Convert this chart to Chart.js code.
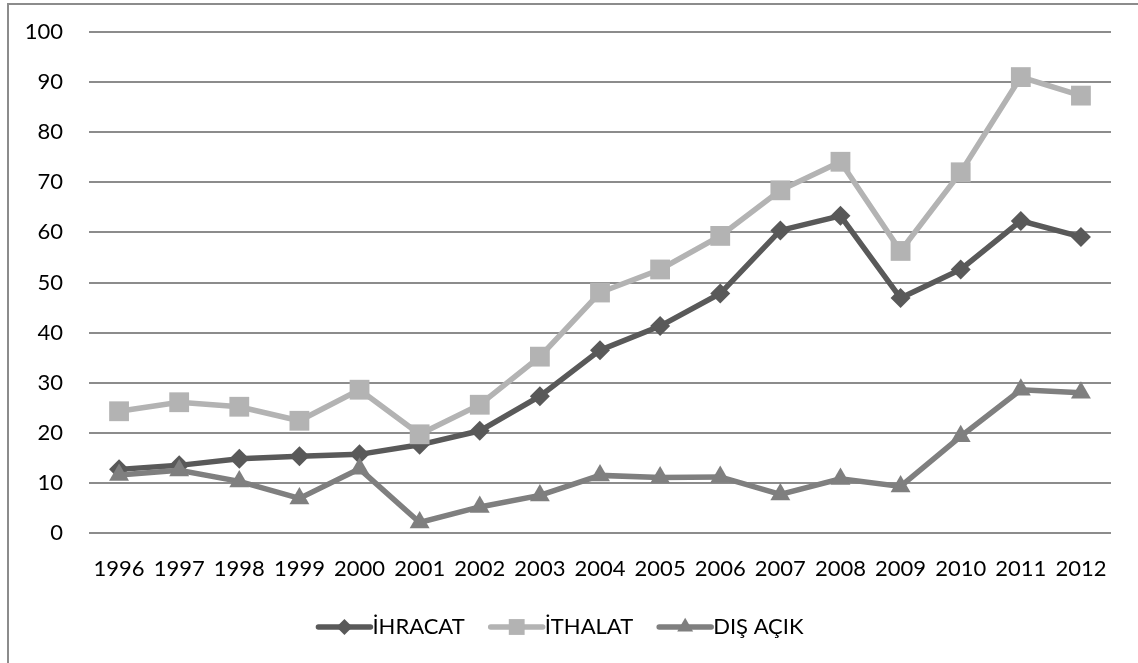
<!DOCTYPE html>
<html>
<head>
<meta charset="utf-8">
<script src="https://cdn.jsdelivr.net/npm/chart.js@4"></script>
<style>
  html, body { margin: 0; padding: 0; background: #fff; overflow: hidden; }
  #frame {
    position: absolute; left: 7px; top: 3px; width: 1140px; height: 670px;
    border: 2px solid #8c8c8c; box-sizing: border-box;
  }
  #wrap { position: absolute; left: 0; top: 0; width: 1138px; height: 663px; }
</style>
</head>
<body>
<div id="frame"></div>
<div id="wrap"><canvas id="lineChart"></canvas></div>
<script>
// years on the x axis
const years = ['1996', '1997', '1998', '1999', '2000', '2001', '2002', '2003', '2004',
  '2005', '2006', '2007', '2008', '2009', '2010', '2011', '2012'];

// series values
const ihracat = [12.7, 13.5, 14.8, 15.3, 15.7, 17.6, 20.4, 27.3, 36.5, 41.3, 47.8, 60.4, 63.3, 46.9, 52.6, 62.3, 59.1];
const ithalat = [24.3, 26.1, 25.2, 22.4, 28.6, 19.7, 25.6, 35.2, 48.0, 52.6, 59.3, 68.4, 74.1, 56.3, 72.0, 91.0, 87.3];
const disAcik = [11.6, 12.5, 10.3, 6.9, 12.8, 2.1, 5.2, 7.5, 11.5, 11.1, 11.2, 7.7, 10.8, 9.3, 19.3, 28.6, 28.0];

const seriesNames = ['İHRACAT', 'İTHALAT', 'DIŞ AÇIK'];
const seriesColors = ['#595959', '#b3b3b3', '#7f7f7f'];
const seriesStyles = ['rectRot', 'rect', 'triangle'];
const seriesRadius = [10, 14, 11.5];

const FONT = 'Lato, "Open Sans", sans-serif';

// legend: built-in layout, but the symbol (line + marker) is drawn here
const legendSymbols = {
  id: 'legendSymbols',
  afterDraw(chart) {
    const legend = chart.legend;
    if (!legend || !legend.legendHitBoxes) return;
    const ctx = chart.ctx;
    const boxW = legend.options.labels.boxWidth;
    legend.legendHitBoxes.forEach((hb, i) => {
      const y = hb.top + hb.height / 2;
      const x1 = hb.left + boxW + 9;
      const x0 = x1 - 52;
      ctx.save();
      ctx.strokeStyle = seriesColors[i];
      ctx.fillStyle = seriesColors[i];
      ctx.lineWidth = 5.5;
      ctx.lineCap = 'round';
      ctx.beginPath();
      ctx.moveTo(x0, y);
      ctx.lineTo(x1, y);
      ctx.stroke();
      Chart.helpers.drawPoint(ctx, {
        pointStyle: seriesStyles[i],
        radius: seriesRadius[i] * 0.8,
        rotation: 0,
        borderWidth: 0
      }, (x0 + x1) / 2, y);
      ctx.restore();
    });
  }
};

const ctx = document.getElementById('lineChart').getContext('2d');
new Chart(ctx, {
  type: 'line',
  data: {
    labels: years,
    datasets: [ihracat, ithalat, disAcik].map((vals, i) => ({
      label: seriesNames[i],
      data: vals,
      borderColor: seriesColors[i],
      backgroundColor: seriesColors[i],
      borderWidth: 5.5,
      pointStyle: seriesStyles[i],
      pointRadius: seriesRadius[i],
      pointHoverRadius: seriesRadius[i],
      pointBorderWidth: 0,
      tension: 0,
      fill: false,
      order: 3 - i // later series on top, as in the original
    }))
  },
  options: {
    responsive: true,
    maintainAspectRatio: false,
    animation: false,
    layout: {
      padding: { left: 5, right: 27, top: 32, bottom: 0 }
    },
    plugins: {
      legend: {
        position: 'bottom',
        labels: {
          boxWidth: 49,
          boxHeight: 52,
          padding: 20,
          color: '#000',
          font: { size: 22, family: FONT },
          generateLabels(chart) {
            return chart.data.datasets.map((ds, i) => ({
              text: ds.label,
              fillStyle: 'rgba(0,0,0,0)',
              strokeStyle: 'rgba(0,0,0,0)',
              lineWidth: 0,
              hidden: false,
              datasetIndex: i,
              fontColor: '#000'
            }));
          }
        }
      },
      tooltip: { enabled: false }
    },
    scales: {
      x: {
        offset: true,
        grid: { display: false },
        border: { display: false },
        ticks: {
          color: '#000',
          font: { size: 22, family: FONT },
          maxRotation: 0,
          autoSkip: false,
          padding: 15
        },
        afterFit(scale) {
          scale.paddingLeft = 0;
          scale.paddingRight = 0;
          scale.height = 48;
        }
      },
      y: {
        min: 0,
        max: 100,
        grid: { color: '#8c8c8c', lineWidth: 2, drawTicks: false },
        border: { display: false },
        ticks: {
          stepSize: 10,
          color: '#000',
          font: { size: 22, family: FONT, lineHeight: 0.5 },
          padding: 26
        },
        afterFit(scale) {
          scale.width = 84;
        }
      }
    }
  },
  plugins: [legendSymbols]
});
</script>
</body>
</html>
